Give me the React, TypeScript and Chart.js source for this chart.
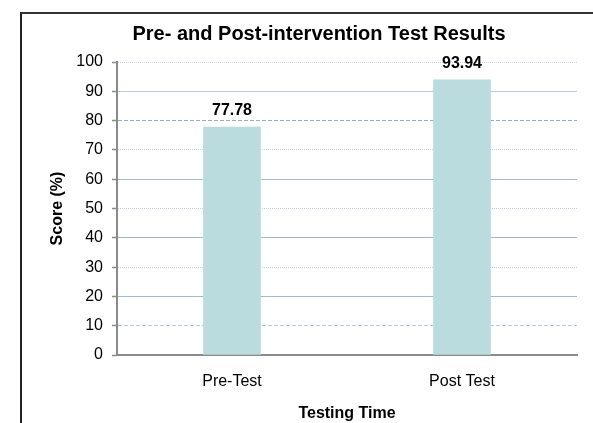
import React, { useEffect, useRef } from "react";
import { Chart, registerables } from "chart.js";

Chart.register(...registerables);

const chartTitle = "Pre- and Post-intervention Test Results";
const categories = ["Pre-Test", "Post Test"];
const scores = [77.78, 93.94];
const xAxisTitle = "Testing Time";
const yAxisTitle = "Score (%)";
const yMin = 0;
const yMax = 100;
const yStep = 10;

const FONT = "'Liberation Sans', Arial, sans-serif";

const gridStyles: Record<number, { color: string; dash: number[] }> = {
  100: { color: "#c3d2e8", dash: [1, 1] },
  90: { color: "#b9cbe2", dash: [] },
  80: { color: "#8fabd6", dash: [4, 2] },
  70: { color: "#c3d2e8", dash: [1, 1] },
  60: { color: "#a3b9da", dash: [] },
  50: { color: "#c3d2e8", dash: [1, 1] },
  40: { color: "#9fb6d8", dash: [] },
  30: { color: "#c3d2e8", dash: [1, 1] },
  20: { color: "#9fb6d8", dash: [] },
  10: { color: "#b3c6e2", dash: [4, 2] },
  0: { color: "rgba(0,0,0,0)", dash: [] },
};

const titlePlugin = {
  id: "customTitle",
  afterDraw(chart: any) {
    const ctx = chart.ctx;
    ctx.save();
    ctx.font = `bold 20px ${FONT}`;
    ctx.fillStyle = "#000";
    ctx.textAlign = "center";
    ctx.textBaseline = "middle";
    ctx.fillText(chartTitle, 319, 34);
    ctx.restore();
  },
};

const valueLabels = {
  id: "valueLabels",
  afterDatasetsDraw(chart: any) {
    const ctx = chart.ctx;
    const meta = chart.getDatasetMeta(0);
    ctx.save();
    ctx.font = `bold 16px ${FONT}`;
    ctx.fillStyle = "#000";
    ctx.textAlign = "center";
    ctx.textBaseline = "alphabetic";
    meta.data.forEach((bar: any, i: number) => {
      ctx.fillText(scores[i].toFixed(2), bar.x, bar.y - 12);
    });
    ctx.restore();
  },
};

export default function App() {
  const ref = useRef<HTMLCanvasElement | null>(null);

  useEffect(() => {
    if (!ref.current) return;
    const chart = new Chart(ref.current, {
      type: "bar",
      data: {
        labels: categories,
        datasets: [
          {
            data: scores,
            backgroundColor: "#badcdf",
            borderWidth: 0,
            barThickness: 57,
          },
        ],
      },
      options: {
        responsive: false,
        animation: false,
        events: [],
        layout: { padding: { left: 0, right: 16, top: 62, bottom: 0 } },
        plugins: {
          legend: { display: false },
          title: { display: false },
          tooltip: { enabled: false },
        },
        scales: {
          x: {
            afterFit: (s: any) => {
              s.height = 68;
            },
            grid: { display: false, drawTicks: false },
            border: { display: true, color: "#8a8a8a", width: 2 },
            ticks: {
              color: "#000",
              padding: 17,
              font: { family: FONT, size: 16 },
            },
            title: {
              display: true,
              text: xAxisTitle,
              color: "#000",
              padding: { top: 0, bottom: 0 },
              font: { family: FONT, size: 16, weight: "bold" },
            },
          },
          y: {
            min: yMin,
            max: yMax,
            afterFit: (s: any) => {
              s.width = 117;
            },
            grid: {
              color: (c: any) => (gridStyles[c.tick?.value]?.color ?? "#b0c4de"),
              lineWidth: 1,
              tickColor: "#8a8a8a",
              tickLength: 5,
              tickWidth: 1.5,
            },
            border: {
              display: true,
              color: "#8a8a8a",
              width: 2,
              dash: (c: any) =>
                c.tick ? gridStyles[c.tick.value]?.dash ?? [] : [],
            },
            ticks: {
              stepSize: yStep,
              color: "#000",
              padding: 9,
              font: { family: FONT, size: 16 },
            },
            title: {
              display: true,
              text: yAxisTitle,
              color: "#000",
              padding: { top: 48, bottom: 0 },
              font: { family: FONT, size: 16, weight: "bold" },
            },
          },
        },
      },
      plugins: [titlePlugin, valueLabels],
    });
    return () => chart.destroy();
  }, []);

  return (
    <div
      style={{
        position: "fixed",
        left: 0,
        top: 0,
        width: 593,
        height: 423,
        overflow: "hidden",
        background: "#fff",
      }}
    >
      <div
        style={{
          position: "absolute",
          left: 20,
          top: 12,
          width: 700,
          height: 600,
          borderLeft: "2px solid #222",
          borderTop: "2px solid #333",
        }}
      />
      <canvas
        ref={ref}
        width={593}
        height={423}
        style={{ position: "absolute", left: 0, top: 0, width: 593, height: 423 }}
      />
    </div>
  );
}
